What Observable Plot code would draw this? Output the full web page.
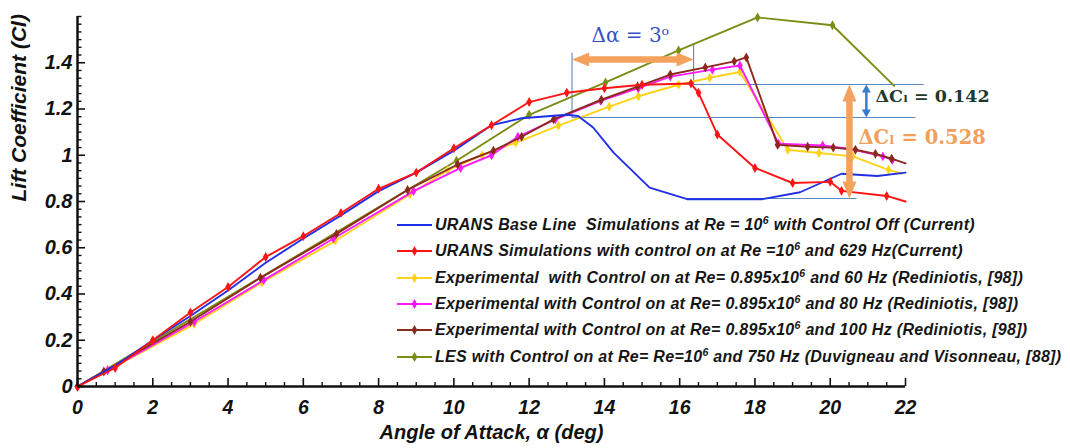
<!DOCTYPE html>
<html><head><meta charset="utf-8">
<script src="https://cdn.jsdelivr.net/npm/d3@7"></script>
<script src="https://cdn.jsdelivr.net/npm/@observablehq/plot@0.6"></script>
<style>
body{margin:0;background:#fff;}
#wrap{position:relative;width:1070px;height:448px;}
#legend{position:absolute;left:397px;top:212px;font-family:"Liberation Sans",Arial,Helvetica,sans-serif;font-weight:bold;font-style:italic;font-size:16px;letter-spacing:0.3px;color:#151515;}
.row{height:26.3px;display:flex;align-items:center;white-space:pre;}
.row svg{margin-right:3px;flex:none;}
sup{font-size:10.5px;vertical-align:6px;line-height:0;}
</style></head><body><div id="wrap"><div id="legend"></div></div>
<script>
// ---------- data (alpha in deg, Cl) ----------
const uransBase = [[0,0],[1,0.09],[2,0.2],[3,0.305],[4,0.415],[5,0.535],[6,0.64],[7,0.74],[8,0.845],[9,0.925],[10,1.02],[11,1.13],[11.8,1.16],[13,1.175],[13.3,1.17],[13.7,1.12],[14.25,1.01],[15.2,0.86],[16.2,0.81],[18.2,0.81],[19.2,0.84],[20.3,0.92],[21.25,0.91],[22,0.925]];
const uransCtrl = [[0,0],[1,0.08],[2,0.2],[3,0.32],[4,0.43],[5,0.56],[6,0.65],[7,0.75],[8,0.855],[9,0.925],[10,1.03],[11,1.13],[12,1.23],[13,1.27],[14,1.29],[15,1.305],[16.3,1.31],[16.5,1.27],[17,1.09],[18,0.945],[19,0.88],[20,0.885],[20.3,0.846],[21.5,0.824],[22,0.8]];
const exp60 = [[0,0],[0.8,0.07],[3.1,0.27],[4.9,0.45],[6.85,0.63],[8.83,0.83],[9.83,0.935],[10.75,1.0],[11.64,1.054],[12.78,1.128],[14.13,1.21],[14.9,1.255],[15.97,1.305],[16.8,1.335],[17.6,1.36],[18.87,1.024],[19.7,1.01],[20.6,0.995],[21.55,0.937],[21.9,0.92]];
const exp80 = [[0,0],[0.8,0.07],[3.1,0.28],[4.95,0.46],[6.8,0.64],[8.93,0.845],[10.18,0.945],[11,1.0],[11.7,1.08],[12.7,1.155],[13.9,1.235],[14.9,1.29],[15.75,1.34],[16.87,1.37],[17.6,1.388],[18.63,1.05],[19.8,1.042],[20.5,1.028],[21.4,0.995],[21.65,0.98]];
const exp100 = [[0,0],[0.7,0.065],[3.0,0.28],[4.86,0.47],[6.88,0.66],[8.77,0.85],[10.1,0.96],[11.05,1.02],[11.8,1.08],[12.65,1.155],[13.92,1.24],[14.88,1.297],[15.75,1.349],[16.68,1.38],[17.45,1.406],[17.77,1.423],[18.6,1.045],[19.4,1.037],[20.08,1.033],[20.67,1.024],[21.2,1.006],[21.63,0.985],[22,0.965]];
const les = [[0,0],[10.07,0.976],[12.0,1.175],[14.03,1.315],[15.97,1.453],[18.07,1.596],[20.06,1.562],[21.7,1.3]];

const legendLabels = [
  'URANS Base Line  Simulations at Re = 10<sup>6</sup> with Control Off (Current)',
  'URANS Simulations with control on at Re =10<sup>6</sup> and 629 Hz(Current)',
  'Experimental  with Control on at Re= 0.895x10<sup>6</sup> and 60 Hz (Rediniotis, [98])',
  'Experimental with Control on at Re= 0.895x10<sup>6</sup> and 80 Hz (Rediniotis, [98])',
  'Experimental with Control on at Re= 0.895x10<sup>6</sup> and 100 Hz (Rediniotis, [98])',
  'LES with Control on at Re= Re=10<sup>6</sup> and 750 Hz (Duvigneau and Visonneau, [88])'
];

// annotation values
const alphaStallBase = 13.14, alphaStallCtrl = 16.37;
const clMaxBase = 1.163, clMaxCtrl = 1.306, clPostStall = 0.813;
const annoLines = [
  {x1: alphaStallBase, y1: clMaxBase, x2: alphaStallBase, y2: 1.444},
  {x1: alphaStallCtrl, y1: clMaxCtrl, x2: alphaStallCtrl, y2: 1.483},
  {x1: alphaStallCtrl, y1: clMaxCtrl, x2: 22.48, y2: clMaxCtrl},
  {x1: alphaStallBase, y1: clMaxBase, x2: 22.26, y2: clMaxBase},
  {x1: 16.2, y1: clPostStall, x2: 20.7, y2: clPostStall}
];
const dAlphaArrow = {x1: alphaStallBase, x2: alphaStallCtrl, y: 1.414};
const dClBigArrow = {x: 20.51, y1: clPostStall, y2: clMaxCtrl};
const dClSmallArrow = {x: 20.96, y1: clMaxBase, y2: clMaxCtrl};
const annoTexts = [
  {x: 14.69, y: 1.518, text: "\u0394\u03b1 = 3\u1d52", color: "#3450c8", size: 20, weight: "normal"},
  {x: 21.2, y: 1.254, text: "\u0394C\u2097 = 0.142", color: "#1e3a2a", size: 17.5, weight: "bold", anchor: "start"},
  {x: 20.75, y: 1.077, text: "\u0394C\u2097 = 0.528", color: "#f0a05a", size: 19.5, weight: "bold", anchor: "start"}
];

const xMajor = [0,2,4,6,8,10,12,14,16,18,20,22];
const yMajor = [0,0.2,0.4,0.6,0.8,1,1.2,1.4];

// ---------- styles ----------
const colors = {base:"#1f2fe8", ctrl:"#ff1414", e60:"#ffd21a", e80:"#ff1aff", e100:"#8b2a1c", les:"#7d8c14"};
const orange = "#f4a15d", annoBlue = "#5b86c4";
const sans = '"Liberation Sans", Arial, Helvetica, sans-serif';

const W = 1070, H = 448, mL = 77, mR = 165, mT = 16, mB = 62;
const innerW = W - mL - mR, innerH = H - mT - mB;

const toRows = arr => arr.map(([a, c]) => ({a, c}));
const xMinor = d3.range(0, 22.001, 0.5).filter(v => !xMajor.includes(v));
const yMinor = d3.range(0, 1.6001, 0.2 / 6).filter(v => !yMajor.some(m => Math.abs(m - v) < 1e-6));

const head = (pts) => ({draw(ctx) { ctx.moveTo(0, 0); ctx.lineTo(pts[0], pts[1]); ctx.lineTo(pts[2], pts[3]); ctx.closePath(); }});
const headL = head([17, -7, 17, 7]), headR = head([-17, -7, -17, 7]);
const headU = head([-7, 17, 7, 17]), headD = head([-7, -17, 7, -17]);
const sHeadU = head([-4.5, 8, 4.5, 8]), sHeadD = head([-4.5, -8, 4.5, -8]);

function series(arr, color, markers = true, markerArr = arr) {
  const out = [Plot.line(toRows(arr), {x: "a", y: "c", stroke: color, strokeWidth: 1.9})];
  if (markers) out.push(Plot.dot(toRows(markerArr), {x: "a", y: "c", symbol: "diamond", r: 3, fill: color, stroke: "none"}));
  return out;
}

const chart = Plot.plot({
  width: W, height: H,
  marginLeft: mL, marginRight: mR, marginTop: mT, marginBottom: mB,
  x: {domain: [0, 22]},
  y: {domain: [0, 1.6]},
  style: {fontFamily: sans, fontWeight: "bold", fontStyle: "italic", fontSize: "19px", color: "#111", background: "transparent", overflow: "visible"},
  marks: [
    // annotation thin lines
    Plot.link(annoLines, {x1: "x1", y1: "y1", x2: "x2", y2: "y2", stroke: annoBlue, strokeWidth: 1.1}),
    // series
    ...series(les, colors.les, true, les.slice(1, -1)),
    ...series(exp60, colors.e60, true, exp60.slice(0, -1)),
    ...series(exp80, colors.e80),
    ...series(exp100, colors.e100, true, exp100.slice(0, -1)),
    ...series(uransBase, colors.base, false),
    ...series(uransCtrl, colors.ctrl, true, uransCtrl.slice(0, -1)),
    // axes
    Plot.ruleY([0], {stroke: "#111", strokeWidth: 2.5}),
    Plot.ruleX([0], {stroke: "#111", strokeWidth: 2.5}),
    Plot.tickX(xMajor, {x: d => d, insetTop: innerH - 8, stroke: "#111", strokeWidth: 1.6}),
    Plot.tickX(xMinor, {x: d => d, insetTop: innerH - 4, stroke: "#111", strokeWidth: 1.4}),
    Plot.tickY(yMajor, {y: d => d, insetRight: innerW - 8, stroke: "#111", strokeWidth: 1.6}),
    Plot.tickY(yMinor, {y: d => d, insetRight: innerW - 4.5, stroke: "#111", strokeWidth: 1.4}),
    Plot.axisX(xMajor, {tickSize: 0, tickPadding: 14, label: null, tickFormat: d => String(d), fontSize: 19.5, fontWeight: "bold", fontStyle: "italic"}),
    Plot.axisY(yMajor, {tickSize: 0, tickPadding: 5, label: null, tickFormat: d => String(d), fontSize: 20, fontWeight: "bold", fontStyle: "italic"}),
    Plot.text(["Angle of Attack, \u03b1 (deg)"], {text: d => d, frameAnchor: "bottom", dy: 52, fontSize: 20, fontWeight: "bold", fontStyle: "italic"}),
    Plot.text(["Lift Coefficient (Cl)"], {text: d => d, frameAnchor: "left", dx: -58, rotate: -90, fontSize: 21, fontWeight: "bold", fontStyle: "italic"}),
    // delta alpha arrow
    Plot.arrow([dAlphaArrow], {x1: "x1", x2: "x2", y1: "y", y2: "y", headLength: 0, insetStart: 14, insetEnd: 14, stroke: orange, strokeWidth: 6.5}),
    Plot.dot([dAlphaArrow], {x: "x1", y: "y", symbol: headL, r: 1, fill: orange, stroke: "none"}),
    Plot.dot([dAlphaArrow], {x: "x2", y: "y", symbol: headR, r: 1, fill: orange, stroke: "none"}),
    // big delta Cl arrow
    Plot.arrow([dClBigArrow], {x1: "x", x2: "x", y1: "y1", y2: "y2", headLength: 0, insetStart: 14, insetEnd: 14, stroke: orange, strokeWidth: 6.5}),
    Plot.dot([dClBigArrow], {x: "x", y: "y1", symbol: headD, r: 1, fill: orange, stroke: "none"}),
    Plot.dot([dClBigArrow], {x: "x", y: "y2", symbol: headU, r: 1, fill: orange, stroke: "none"}),
    // small delta Cl arrow
    Plot.arrow([dClSmallArrow], {x1: "x", x2: "x", y1: "y1", y2: "y2", headLength: 0, insetStart: 6, insetEnd: 6, stroke: "#3b7cc8", strokeWidth: 2.5}),
    Plot.dot([dClSmallArrow], {x: "x", y: "y1", symbol: sHeadD, r: 1, fill: "#3b7cc8", stroke: "none"}),
    Plot.dot([dClSmallArrow], {x: "x", y: "y2", symbol: sHeadU, r: 1, fill: "#3b7cc8", stroke: "none"}),
    // annotation texts
    ...annoTexts.map(t => Plot.text([t], {x: "x", y: "y", text: "text", fill: t.color, fontSize: t.size, fontWeight: t.weight, fontStyle: "normal", fontFamily: '"DejaVu Serif", "Liberation Serif", serif', textAnchor: t.anchor || "middle"}))
  ]
});
document.getElementById("wrap").prepend(chart);

// legend overlay
const legendColors = [colors.base, colors.ctrl, colors.e60, colors.e80, colors.e100, colors.les];
const legend = document.getElementById("legend");
const diamondPath = d3.symbol(d3.symbolDiamond, 9 * Math.PI)();
legendLabels.forEach((lab, i) => {
  const row = document.createElement("div");
  row.className = "row";
  const c = legendColors[i];
  const mk = i === 0 ? "" : `<path transform="translate(17.5,7)" d="${diamondPath}" fill="${c}"/>`;
  row.innerHTML = `<svg width="35" height="14"><line x1="0" x2="35" y1="7" y2="7" stroke="${c}" stroke-width="1.9"/>${mk}</svg><span>${lab}</span>`;
  legend.appendChild(row);
});
</script></body></html>
